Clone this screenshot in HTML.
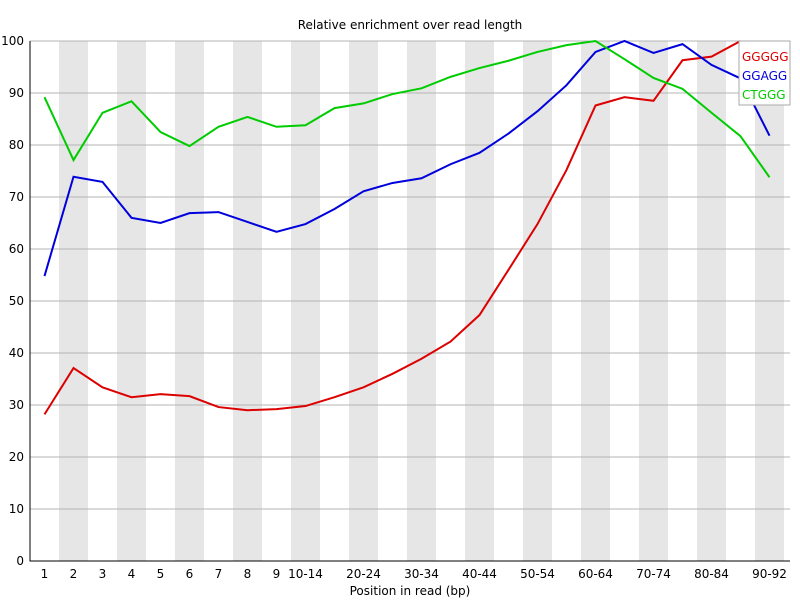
<!DOCTYPE html>
<html><head><meta charset="utf-8"><style>
body{margin:0;background:#fff;}
svg{font-family:"DejaVu Sans","Liberation Sans",sans-serif;}
</style></head><body>
<svg id="chart" width="800" height="600"></svg>
<script>
const categories=["1","2","3","4","5","6","7","8","9","10-14","15-19","20-24","25-29","30-34","35-39","40-44","45-49","50-54","55-59","60-64","65-69","70-74","75-79","80-84","85-89","90-92"];
const seriesGGGGG=[28.2,37.1,33.4,31.5,32.1,31.7,29.6,29.0,29.2,29.8,31.5,33.4,36.0,38.9,42.2,47.3,56.0,64.8,75.2,87.6,89.2,88.5,96.3,97.0,100,null];
const seriesGGAGG=[54.8,73.9,72.9,66.0,65.0,66.9,67.1,65.2,63.3,64.8,67.7,71.1,72.7,73.6,76.3,78.5,82.2,86.5,91.5,97.9,100,97.7,99.4,95.4,92.8,81.8];
const seriesCTGGG=[89.2,77.1,86.2,88.4,82.5,79.8,83.5,85.4,83.5,83.8,87.1,88.0,89.8,90.9,93.1,94.8,96.2,97.9,99.2,100,96.5,92.9,90.8,86.2,81.7,73.8];
const yTicks=[0,10,20,30,40,50,60,70,80,90,100];
const seriesNames=["GGGGG","GGAGG","CTGGG"];
const seriesColors=["#dd0000","#0000dd","#00cc00"];

const NS="http://www.w3.org/2000/svg";
const svg=document.getElementById('chart');
const L=30,R=790,T=41,B=561,step=29.0;
const x=i=>L+step*(i+0.5);
const y=v=>B-(v/100)*(B-T);
function mk(tag,attrs,parent){const e=document.createElementNS(NS,tag);for(const k in attrs)e.setAttribute(k,attrs[k]);(parent||svg).appendChild(e);return e;}

categories.forEach((c,i)=>{
  if(i%2===1){const r=mk('rect',{x:L+step*i,y:T,width:step,height:B-T,fill:'#e6e6e6'});
  
  }
});
yTicks.forEach(v=>{
  const l=mk('line',{x1:L,x2:R,y1:y(v),y2:y(v),stroke:'#b4b4b4','stroke-width':1});
  
  
  const t=mk('text',{x:L-6,y:y(v)+4,'text-anchor':'end','font-size':12,fill:'#000'});
  t.textContent=v;
  
  
});
const ax=mk('path',{d:`M${L} ${T}V${B}H${R}`,stroke:'#000',fill:'none','stroke-width':1});


categories.forEach((c,i)=>{
  if(i<10||i%2===1){const t=mk('text',{x:x(i),y:B+17,'text-anchor':'middle','font-size':12});
  t.textContent=c;
  
  }
});
[seriesGGGGG,seriesGGAGG,seriesCTGGG].forEach((s,k)=>{
  let d='';let pen=false;
  s.forEach((v,i)=>{if(v===null){pen=false;return;}d+=(pen?'L':'M')+x(i)+' '+y(v);pen=true;});
  const p=mk('path',{d,stroke:seriesColors[k],fill:'none','stroke-width':2});
  
  
});
const lg=mk('g',{});


mk('rect',{x:739,y:41,width:51,height:64,fill:'#fff',stroke:'#aaa'},lg);
seriesNames.forEach((n,k)=>{
  const t=mk('text',{x:742,y:61+k*19,'font-size':12,fill:seriesColors[k]},lg);
  t.textContent=n;
  
  
});
const title=mk('text',{x:410,y:29,'text-anchor':'middle','font-size':12});
title.textContent='Relative enrichment over read length';


const xt=mk('text',{x:410,y:595,'text-anchor':'middle','font-size':12});
xt.textContent='Position in read (bp)';


</script>
</body></html>
